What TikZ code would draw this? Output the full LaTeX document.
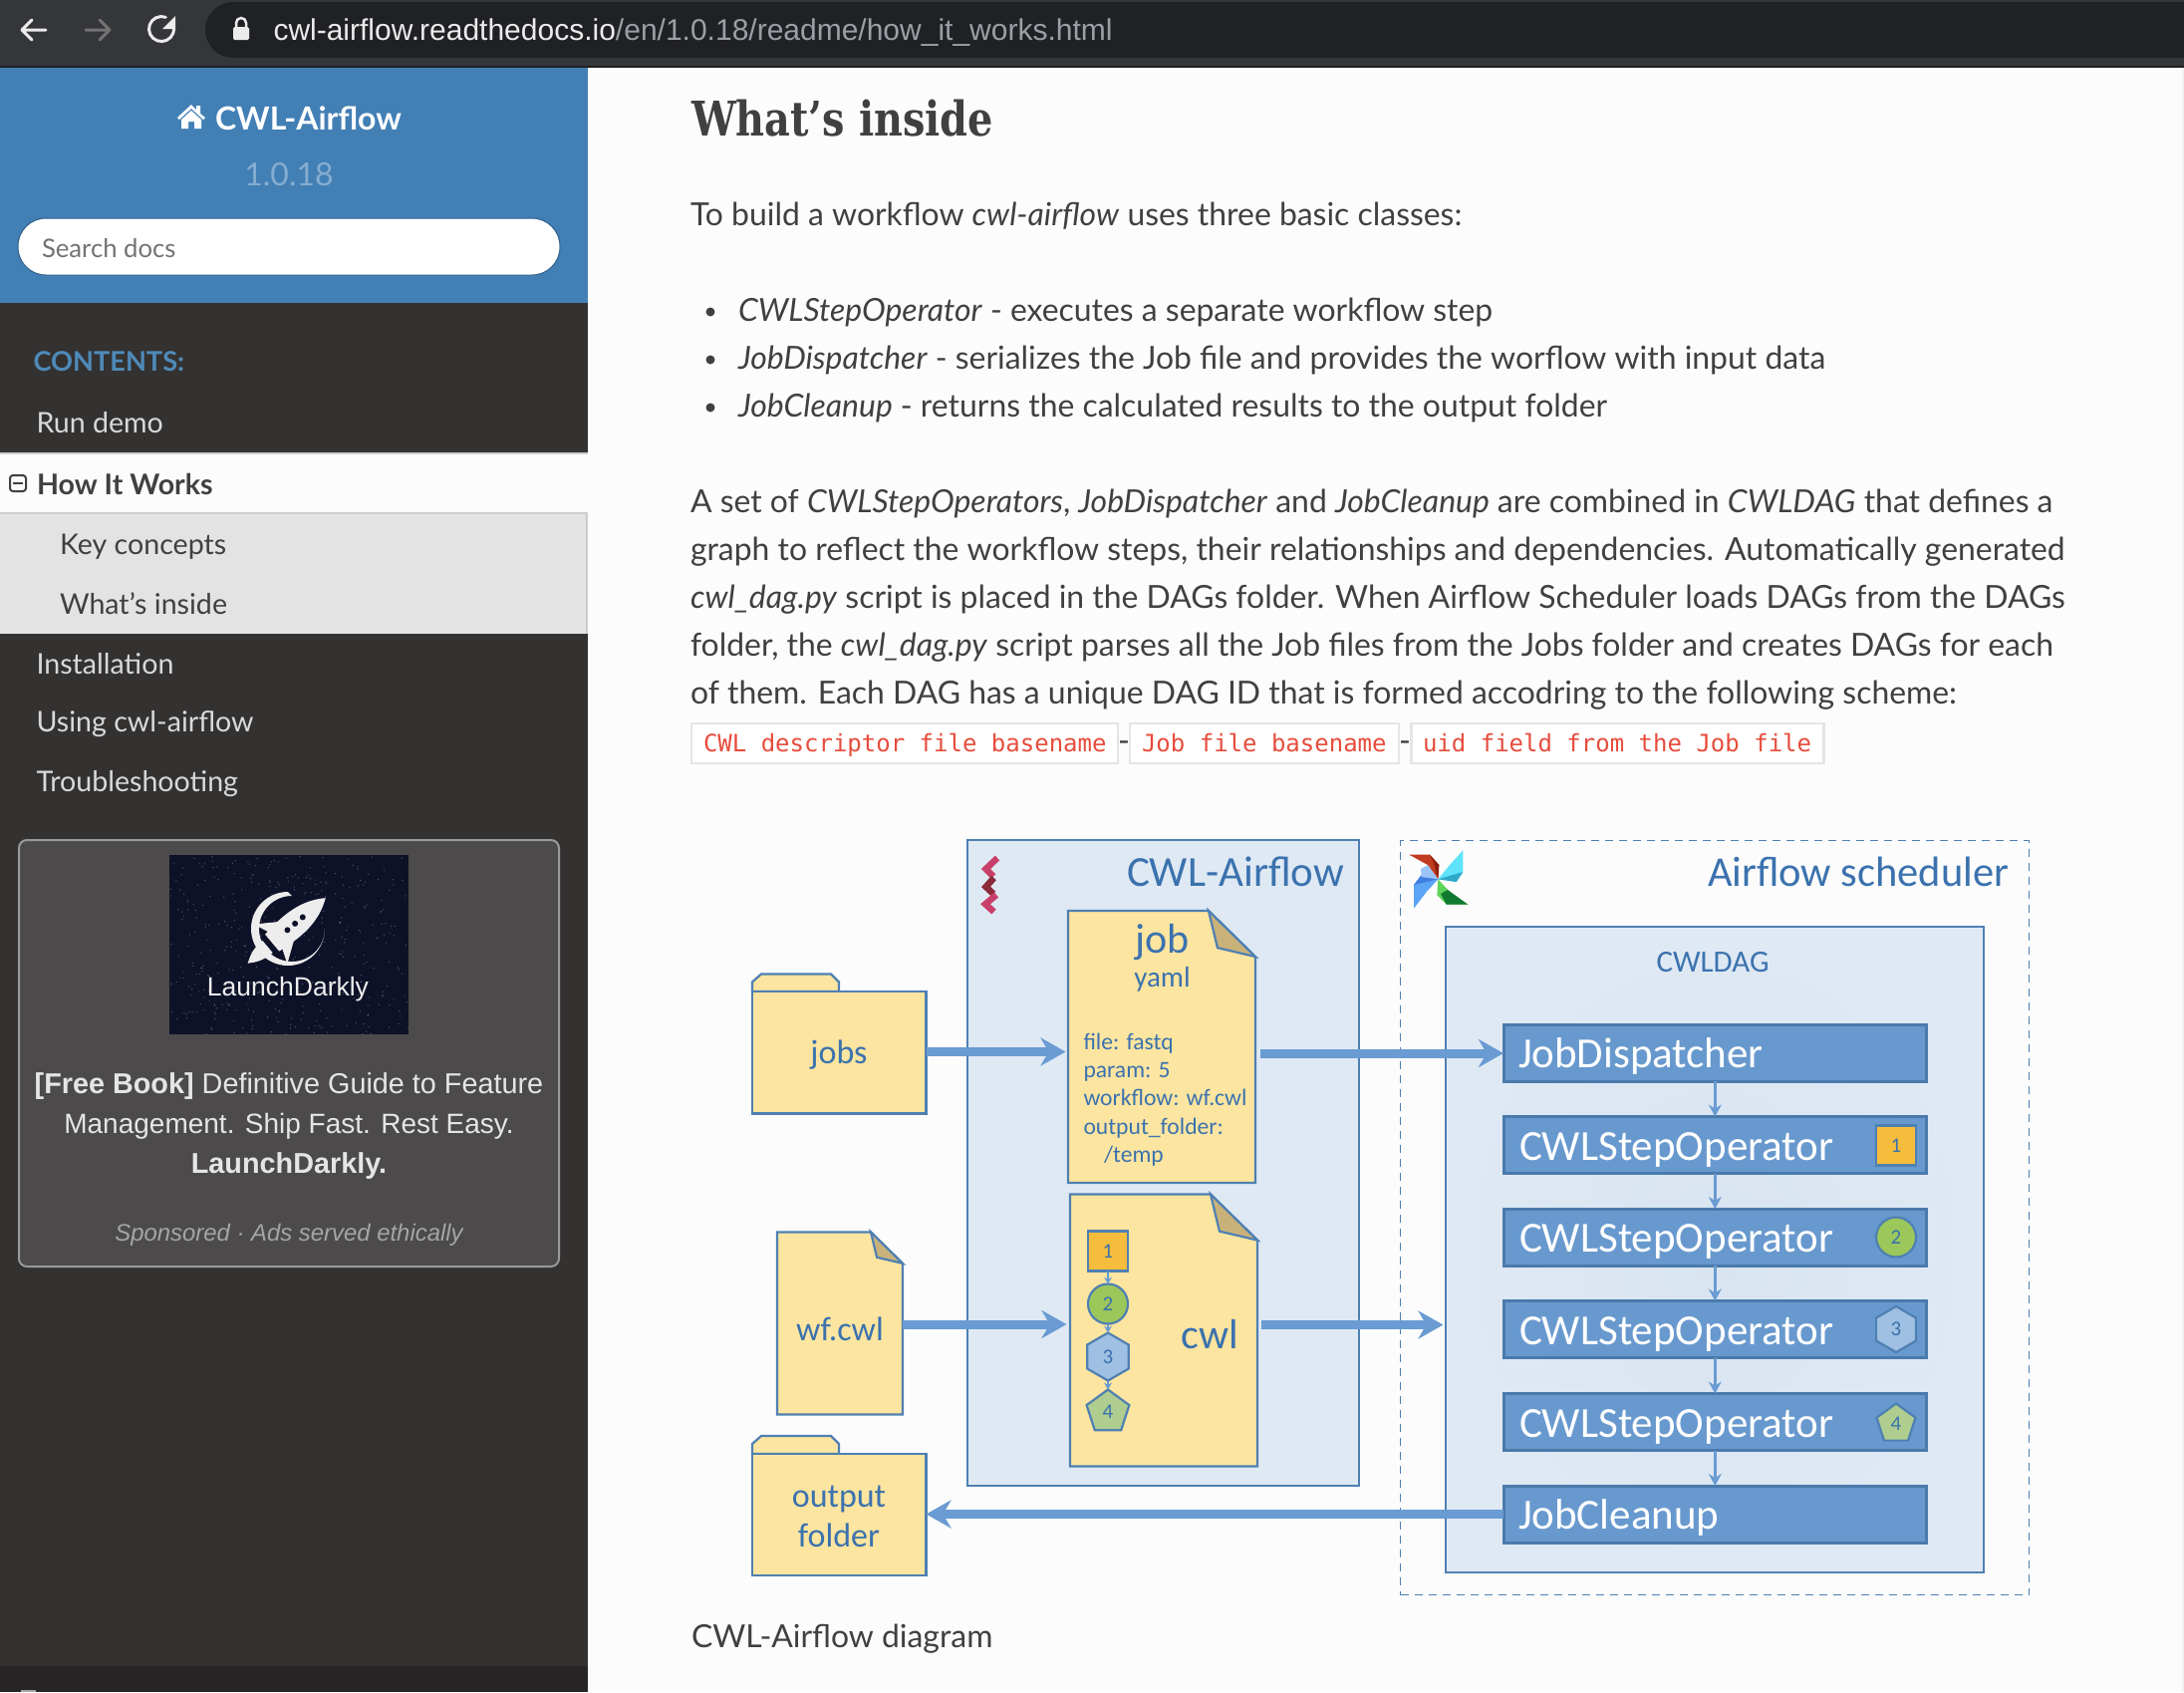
\documentclass[tikz,border=0pt]{standalone}
\usepackage{fontspec}
\setmainfont{Lato}
\newfontfamily\slabfont[FakeStretch=0.83]{DejaVu Serif}
\newfontfamily\codefont{DejaVu Sans Mono}
\newfontfamily\uifont{Liberation Sans}
\newfontfamily\diafont{Carlito}
\usetikzlibrary{arrows.meta,calc,shapes.geometric}
\definecolor{barbg}{HTML}{35363A}
\definecolor{barline}{HTML}{1F1F20}
\definecolor{pillbg}{HTML}{202124}
\definecolor{urlgrey}{HTML}{9AA0A6}
\definecolor{sidedark}{HTML}{343131}
\definecolor{sidefoot}{HTML}{272525}
\definecolor{sideblue}{HTML}{427FB5}
\definecolor{verstxt}{HTML}{85ADD0}
\definecolor{conttxt}{HTML}{4E8AB8}
\definecolor{pagebg}{HTML}{FCFCFC}
\definecolor{bodytxt}{HTML}{404040}
\definecolor{sidetxt}{HTML}{D9D9D9}
\definecolor{adbg}{HTML}{4C4A4B}
\definecolor{adimgbg}{HTML}{0E1228}
\definecolor{adsub}{HTML}{A5A5A5}
\definecolor{codered}{HTML}{E74C3C}
\definecolor{dialine}{HTML}{4F80B2}
\definecolor{opline}{HTML}{4A7AAB}
\definecolor{diatxt}{HTML}{3B72AE}
\definecolor{lightbox}{HTML}{DFE9F4}
\definecolor{lightglow}{HTML}{D8E4F0}
\definecolor{docfill}{HTML}{FCE5A0}
\definecolor{foldfill}{HTML}{C9B27A}
\definecolor{opbox}{HTML}{6899CE}
\definecolor{arrowblue}{HTML}{6A9BD2}
\definecolor{bad1}{HTML}{F5BD3B}
\definecolor{bad2}{HTML}{9CC75A}
\definecolor{bad3}{HTML}{A0C0E3}
\definecolor{bad4}{HTML}{AECD8F}
\definecolor{zigpink}{HTML}{C8406A}
\definecolor{zigdark}{HTML}{8C2A3A}
\definecolor{pwred}{HTML}{C23A20}
\definecolor{pwreddk}{HTML}{8C1F10}
\definecolor{pwcyan}{HTML}{5FE3FB}
\definecolor{pwcyandk}{HTML}{2FA8C8}
\definecolor{pwgreen}{HTML}{5FD45A}
\definecolor{pwgreendk}{HTML}{127A30}
\definecolor{pwblue}{HTML}{5AA5F5}
\definecolor{pwbluedk}{HTML}{3F7FE0}
\definecolor{pwbluelt}{HTML}{9CC4F8}
\tikzset{
  x=1pt,y=-1pt,
  pt/.style={inner sep=0pt,outer sep=0pt},
  bodyline/.style={pt,anchor=base west,text=bodytxt,font=\fontsize{31.9}{38}\selectfont},
  sideline/.style={pt,anchor=base west,text=sidetxt,font=\fontsize{28.6}{34}\selectfont},
  sideactive/.style={pt,anchor=base west,text=bodytxt,font=\fontsize{28.6}{34}\selectfont},
  codebox/.style={pt,anchor=north west,draw=black!10,fill=white,line width=2.5pt},
  codetxt/.style={pt,anchor=base west,text=codered,font=\codefont\fontsize{24}{28}\selectfont},
  panel/.style={pt,anchor=north west,draw=dialine,fill=lightbox,line width=2.2pt},
  opnode/.style={pt,anchor=north west,draw=opline,fill=opbox,line width=3pt,minimum width=424.6pt,minimum height=57pt},
  optext/.style={pt,anchor=base west,text=white,font=\diafont\fontsize{43}{48}\selectfont},
  diatext/.style={pt,anchor=base,text=diatxt,font=\diafont\fontsize{#1}{#1}\selectfont},
  dialeft/.style={pt,anchor=base west,text=diatxt,font=\diafont\fontsize{#1}{#1}\selectfont},
  bignum/.style={pt,text=diatxt,font=\diafont\fontsize{21}{21}\selectfont},
  docline/.style={draw=dialine,line width=2.2pt,line join=miter},
  bigarrow/.style={draw=arrowblue,line width=9pt,-{Stealth[length=25pt,width=28pt,inset=8pt]}},
  smallarrow/.style={draw=arrowblue,line width=2.5pt,-{Stealth[length=12pt,width=13pt,inset=4pt]}},
  tinyarrow/.style={draw=arrowblue,line width=1.5pt,-{Stealth[length=7pt,width=8pt,inset=2.5pt]}},
  square1/.style={pt,draw=dialine,fill=bad1,line width=2.2pt,minimum width=40pt,minimum height=40pt},
  circle2/.style={pt,circle,draw=dialine,fill=bad2,line width=2.2pt,minimum size=40pt},
  hex3/.style={pt,regular polygon,regular polygon sides=6,regular polygon rotate=30,draw=dialine,fill=bad3,line width=2.2pt,minimum size=48pt},
  pent4/.style={pt,regular polygon,regular polygon sides=5,draw=dialine,fill=bad4,line width=2.2pt,minimum size=45pt},
  navicon/.style={line width=3pt,line cap=round,line join=round},
}
% \docshape{name}{x1}{y1}{x2}{y2}{foldsize}
\newcommand{\docshape}[6]{%
  \node[pt,anchor=north west,minimum width=#4pt-#2pt,minimum height=#5pt-#3pt] (#1) at (#2,#3) {};
  \path[docline,fill=docfill] (#2,#3) -- ({#4-#6},#3) -- (#4,{#3+#6*0.98}) -- (#4,#5) -- (#2,#5) -- cycle;
  \path[docline,fill=foldfill] ({#4-#6},#3) -- ({#4-#6*0.81},{#3+#6*0.79}) -- (#4,{#3+#6*0.98}) -- cycle;
}
% \foldershape{name}{x1}{tabtop}{x2}{y1}{y2}
\newcommand{\foldershape}[6]{%
  \path[docline,fill=docfill] (#2,#5) -- (#2,{#3+8}) -- ({#2+9},#3) -- ({#2+79},#3) -- ({#2+87},{#3+8}) -- ({#2+87},#5) -- cycle;
  \node[pt,anchor=north west,draw=dialine,fill=docfill,line width=2.2pt,minimum width=#4pt-#2pt,minimum height=#6pt-#5pt] (#1) at (#2,#5) {};
}
\begin{document}
\begin{tikzpicture}
\useasboundingbox (0,0) rectangle (2192,1698);
% page and browser bar
\fill[pagebg] (0,0) rectangle (2192,1698);
\fill[black!6] (2190,68) rectangle (2192,1698);
\fill[barbg] (0,0) rectangle (2192,66);
\fill[barline] (0,66) rectangle (2192,68);
\fill[pillbg] (2192,2) -- (234,2) arc[start angle=270,end angle=90,radius=28] -- (2192,58) -- cycle;
\draw[navicon,draw=white!92!black] (46,30) -- (22,30) (32,20) -- (22,30) -- (32,40);
\draw[navicon,draw=white!45!black] (110,30) -- (86,30) (100,20) -- (110,30) -- (100,40);
\draw[navicon,draw=white!92!black] (166.3,17.3) arc[start angle=290,end angle=-15,radius=12.5];
\fill[white!92!black] (176,16) -- (176,29) -- (163,29) -- cycle;
\draw[line width=2.5pt,draw=white!92!black] (237,27) -- (237,23) arc[start angle=180,end angle=360,radius=5] -- (247,27);
\fill[white!92!black,rounded corners=1.5pt] (234,27) rectangle (250,40);
\node[pt,anchor=base west,font=\uifont\fontsize{30}{34}\selectfont] (urltext) at (274.5,40) {\textcolor{white!92!black}{cwl-airflow.readthedocs.io}\textcolor{urlgrey}{/en/1.0.18/readme/how\_it\_works.html}};
% sidebar
\fill[sidedark] (0,68) rectangle (590,1698);
\fill[sideblue] (0,68) rectangle (590,304);
\fill[white] (178,118) -- (192,105) -- (197,110) -- (197,106) -- (201,106) -- (201,114) -- (206,118) -- (204,120) -- (192,109) -- (180,120) -- cycle;
\fill[white] (182,120) -- (192,111) -- (202,120) -- (202,129) -- (195,129) -- (195,122) -- (189,122) -- (189,129) -- (182,129) -- cycle;
\node[pt,anchor=base west,text=white,font=\fontsize{32}{38}\selectfont\bfseries] (brand) at (216,130) {CWL-Airflow};
\node[pt,anchor=base,text=verstxt,font=\fontsize{32}{38}\selectfont] (version) at (290,186) {1.0.18};
\node[pt,anchor=north west,fill=white,draw=black!25!sideblue,line width=1pt,rounded corners=28pt,minimum width=544pt,minimum height=57pt] (search) at (18,219) {};
\node[pt,anchor=base west,text=black!55,font=\fontsize{25.7}{30}\selectfont] (searchtxt) at (42,258) {Search docs};
\node[pt,anchor=base west,text=conttxt,font=\fontsize{27.2}{32}\selectfont\bfseries] (contents) at (33.5,372) {CONTENTS:};
\node[sideline] (s1) at (36.5,434) {Run demo};
\fill[black!20] (0,454) rectangle (590,456);
\fill[white!99!black] (0,456) rectangle (590,514);
\fill[black!20] (0,514) rectangle (590,516);
\fill[black!11] (0,516) rectangle (588,636);
\fill[black!20] (588,516) rectangle (590,636);
\draw[line width=2pt,draw=bodytxt,rounded corners=3pt] (10,477) rectangle (26,493);
\draw[line width=2pt,draw=bodytxt] (13,485) -- (23,485);
\node[sideactive,font=\fontsize{28.6}{34}\selectfont\bfseries] (s2) at (37,496) {How It Works};
\node[sideactive] (s3) at (60,556) {Key concepts};
\node[sideactive] (s4) at (60,616) {What’s inside};
\node[sideline] (s5) at (36.5,676) {Installation};
\node[sideline] (s6) at (36.5,734) {Using cwl-airflow};
\node[sideline] (s7) at (36.5,794) {Troubleshooting};
% ad
\node[pt,anchor=north west,fill=adbg,draw=black!40!white,line width=2pt,rounded corners=8pt,minimum width=542pt,minimum height=428pt] (adbox) at (19,843) {};
\node[pt,anchor=north west,fill=adimgbg,minimum width=240pt,minimum height=180pt] (adimg) at (170,858) {};
\begin{scope}
\clip (170,858) rectangle (410,1038);
\pgfmathsetseed{7}
\foreach \i in {1,...,400}{
  \pgfmathsetmacro{\sx}{170+240*rnd}
  \pgfmathsetmacro{\sy}{858+180*rnd}
  \fill[white,opacity=0.28] (\sx,\sy) circle[radius=0.7];
}
\end{scope}
\fill[white!93!black] (289,895) arc[start angle=270,end angle=0,radius=37] arc[start angle=0,end angle=270,radius=33] -- cycle;
\begin{scope}[shift={(290,932)},rotate=-50]
  \fill[white!93!black] (0,-48) .. controls (14,-28) and (15,-6) .. (11,22) -- (-11,22) .. controls (-15,-6) and (-14,-28) .. (0,-48) -- cycle;
  \fill[white!93!black] (-11,2) -- (-26,24) -- (-11,18) -- cycle;
  \fill[white!93!black] (11,2) -- (26,24) -- (11,18) -- cycle;
  \fill[white!93!black] (-8,28) -- (8,28) .. controls (8,44) and (2,50) .. (0,54) .. controls (-2,50) and (-8,44) .. (-8,28) -- cycle;
  \fill[adimgbg] (0,-18) circle[radius=3] (0,-8) circle[radius=3] (0,2) circle[radius=3];
\end{scope}
\node[pt,anchor=base,text=white!93!black,font=\uifont\fontsize{26.5}{30}\selectfont] (adlogo) at (289,999) {LaunchDarkly};
\node[pt,anchor=base,text=white!90!black,font=\uifont\fontsize{28.8}{34}\selectfont] (ad1) at (290,1097) {\textbf{[Free Book]} Definitive Guide to Feature};
\node[pt,anchor=base,text=white!90!black,font=\uifont\fontsize{28}{34}\selectfont] (ad2) at (290,1137) {Management. Ship Fast. Rest Easy.};
\node[pt,anchor=base,text=white!90!black,font=\uifont\fontsize{28.8}{34}\selectfont\bfseries] (ad3) at (290,1177) {LaunchDarkly.};
\node[pt,anchor=base,text=adsub,font=\uifont\fontsize{23.9}{28}\selectfont\itshape] (ad4) at (290,1245) {Sponsored · Ads served ethically};
\fill[sidefoot] (0,1672) rectangle (590,1698);
\fill[black!35] (21,1696) rectangle (36,1698);
% body
\node[pt,anchor=base west,text=bodytxt,font=\slabfont\fontsize{48}{54}\selectfont\bfseries] (h1) at (694,136) {What’s inside};
\node[bodyline] (b1) at (693,226) {To build a workflow \textit{cwl-airflow} uses three basic classes:};
\foreach \yy in {313,361,409}{\fill[bodytxt] (713,\yy) circle[radius=4.5];}
\node[bodyline] (b2) at (741,322) {\textit{CWLStepOperator} - executes a separate workflow step};
\node[bodyline] (b3) at (741,370) {\textit{JobDispatcher} - serializes the Job file and provides the worflow with input data};
\node[bodyline] (b4) at (741,418) {\textit{JobCleanup} - returns the calculated results to the output folder};
\node[bodyline] (p1) at (693,514) {A set of \textit{CWLStepOperators}, \textit{JobDispatcher} and \textit{JobCleanup} are combined in \textit{CWLDAG} that defines a};
\node[bodyline] (p2) at (693,562) {graph to reflect the workflow steps, their relationships and dependencies. Automatically generated};
\node[bodyline] (p3) at (693,610) {\textit{cwl\_dag.py} script is placed in the DAGs folder. When Airflow Scheduler loads DAGs from the DAGs};
\node[bodyline] (p4) at (693,658) {folder, the \textit{cwl\_dag.py} script parses all the Job files from the Jobs folder and creates DAGs for each};
\node[bodyline] (p5) at (693,706) {of them. Each DAG has a unique DAG ID that is formed accodring to the following scheme:};
\node[codebox,minimum width=428pt,minimum height=40pt] (c1) at (694,726) {};
\node[codebox,minimum width=270pt,minimum height=40pt] (c2) at (1134,726) {};
\node[codebox,minimum width=414pt,minimum height=40pt] (c3) at (1416.5,726) {};
\node[codetxt] (c1t) at (706,754) {CWL descriptor file basename};
\node[codetxt] (c2t) at (1146,754) {Job file basename};
\node[codetxt] (c3t) at (1428,754) {uid field from the Job file};
\node[bodyline,anchor=base] (dash1) at (1128,754) {-};
\node[bodyline,anchor=base] (dash2) at (1410,754) {-};
\node[bodyline] (cap) at (694,1653) {CWL-Airflow diagram};
% diagram panels
\node[panel,minimum width=393pt,minimum height=648pt] (cwlpanel) at (971,843) {};
\node[pt,anchor=north west,draw=dialine,dash pattern=on 8pt off 6pt,line width=1.8pt,minimum width=631pt,minimum height=757pt] (schedpanel) at (1405.5,843.5) {};
\node[panel,inner color=lightglow,outer color=lightbox,minimum width=540pt,minimum height=648pt] (dagpanel) at (1451,930) {};
\node[dialeft=43] (cwltitle) at (1131,889) {CWL-Airflow};
\node[dialeft=42.5] (schedtitle) at (1714,889) {Airflow scheduler};
\node[diatext=31] (dagtitle) at (1719,975) {CWLDAG};
% zigzag logo
\draw[line width=6.5pt,draw=zigpink,line join=miter] (1001,861) -- (989.5,872) -- (997,879.5);
\draw[line width=6.5pt,draw=zigdark,line join=miter] (997.5,881) -- (989.5,890) -- (997,897);
\draw[line width=6.5pt,draw=zigpink,line join=miter] (1000,898) -- (989,907.3) -- (997.5,915);
% pinwheel
\fill[pwred] (1414.3,857.7) -- (1435,857.7) -- (1444.3,868) -- (1443.3,882.3) -- (1433,868) -- cycle;
\fill[pwreddk] (1435,857.7) -- (1444.3,868) -- (1443.3,882.3) -- (1439,866) -- cycle;
\fill[pwcyan] (1468.3,853.3) -- (1468.3,875) -- (1461.7,885) -- (1443.3,882.3) -- (1455,868) -- cycle;
\fill[pwcyandk] (1468.3,875) -- (1461.7,885) -- (1443.3,882.3) -- (1458,878) -- cycle;
\fill[pwgreen] (1473.3,907.7) -- (1451.7,907.7) -- (1442.3,898.3) -- (1443.3,882.3) -- (1455,895) -- cycle;
\fill[pwgreendk] (1473.3,907.7) -- (1451.7,907.7) -- (1446,897) -- (1453,893) -- cycle;
\fill[pwblue] (1419,911.7) -- (1419,888) -- (1426.7,878) -- (1443.3,882.3) -- (1431.7,895) -- cycle;
\fill[pwbluedk] (1419,888) -- (1426.7,878) -- (1443.3,882.3) -- (1428,886) -- cycle;
\fill[pwbluelt] (1426,872) -- (1433,868) -- (1443.3,882.3) -- (1426.7,880) -- cycle;
% sources
\foldershape{jobsf}{755}{977.5}{929.5}{995}{1117.5}
\node[diatext=34] (jobst) at (842,1067) {jobs};
\docshape{wfdoc}{780}{1236.5}{906}{1419.5}{32}
\node[diatext=34] (wft) at (843,1345.5) {wf.cwl};
\foldershape{outf}{755}{1441}{929.5}{1459}{1581}
\node[diatext=34] (outa) at (842,1512) {output};
\node[diatext=34] (outb) at (842,1552) {folder};
% documents
\docshape{jobdoc}{1072}{914}{1260}{1187}{47}
\node[diatext=42] (jobt) at (1166.5,956) {job};
\node[diatext=29] (yamlt) at (1166.5,990.5) {yaml};
\node[dialeft=23.6] (l1) at (1087.5,1053) {file: fastq};
\node[dialeft=23.6] (l2) at (1087.5,1081) {param: 5};
\node[dialeft=23.6] (l3) at (1087.5,1109.5) {workflow: wf.cwl};
\node[dialeft=23.6] (l4) at (1087.5,1138) {output\_folder:};
\node[dialeft=23.6] (l5) at (1108,1166.5) {/temp};
\docshape{cwldoc}{1074}{1198.5}{1262}{1471.5}{47}
\node[diatext=42] (cwlt) at (1214.5,1353) {cwl};
\node[square1] (n1) at (1112,1255.5) {};
\node[circle2] (n2) at (1112,1308.5) {};
\node[hex3] (n3) at (1112,1361.5) {};
\node[pent4] (n4) at (1112,1417) {};
\foreach \k/\lab in {n1/1,n2/2,n3/3,n4/4}{\node[bignum] (\k t) at (\k) {\lab};}
\draw[tinyarrow] (n1.south) -- (n2.north);
\draw[tinyarrow] (n2.south) -- (n3.north);
\draw[tinyarrow] (n3.south) -- (n4.north);
% operators
\node[opnode] (jd) at (1509,1028) {};
\node[opnode] (op1) at (1509,1120.5) {};
\node[opnode] (op2) at (1509,1213) {};
\node[opnode] (op3) at (1509,1305.5) {};
\node[opnode] (op4) at (1509,1398.5) {};
\node[opnode] (jc) at (1509,1491) {};
\node[optext] (jdt) at (1524,1071) {JobDispatcher};
\node[optext] (op1t) at (1525,1164) {CWLStepOperator};
\node[optext] (op2t) at (1525,1256.5) {CWLStepOperator};
\node[optext] (op3t) at (1525,1349) {CWLStepOperator};
\node[optext] (op4t) at (1525,1442) {CWLStepOperator};
\node[optext] (jct) at (1524,1534) {JobCleanup};
\node[square1] (b1n) at (1903,1149.5) {};
\node[circle2] (b2n) at (1903,1241.5) {};
\node[hex3,minimum size=46pt] (b3n) at (1903,1334) {};
\node[pent4,minimum size=41pt] (b4n) at (1903,1429) {};
\foreach \k/\lab in {b1n/1,b2n/2,b3n/3,b4n/4}{\node[bignum] (\k t) at (\k) {\lab};}
\draw[smallarrow] (jd.south) -- (op1.north);
\draw[smallarrow] (op1.south) -- (op2.north);
\draw[smallarrow] (op2.south) -- (op3.north);
\draw[smallarrow] (op3.south) -- (op4.north);
\draw[smallarrow] (op4.south) -- (jc.north);
% big connectors
\coordinate (jobout) at (1265,1057);
\coordinate (cwlout) at (1266,1329.5);
\coordinate (jobin) at (0,1055.5);
\coordinate (wfin) at (0,1329);
\draw[bigarrow,shorten >=2.5pt] (jobsf.east |- jobin) -- (jobdoc.west |- jobin);
\draw[bigarrow] (jobout) -- (jd.west |- jobout);
\draw[bigarrow,shorten >=3.5pt] (wfdoc.east |- wfin) -- (cwldoc.west |- wfin);
\draw[bigarrow,shorten >=2.5pt] (cwlout) -- (dagpanel.west |- cwlout);
\draw[bigarrow] (jc.west) -- (outf.east |- jc.west);
\end{tikzpicture}
\end{document}
